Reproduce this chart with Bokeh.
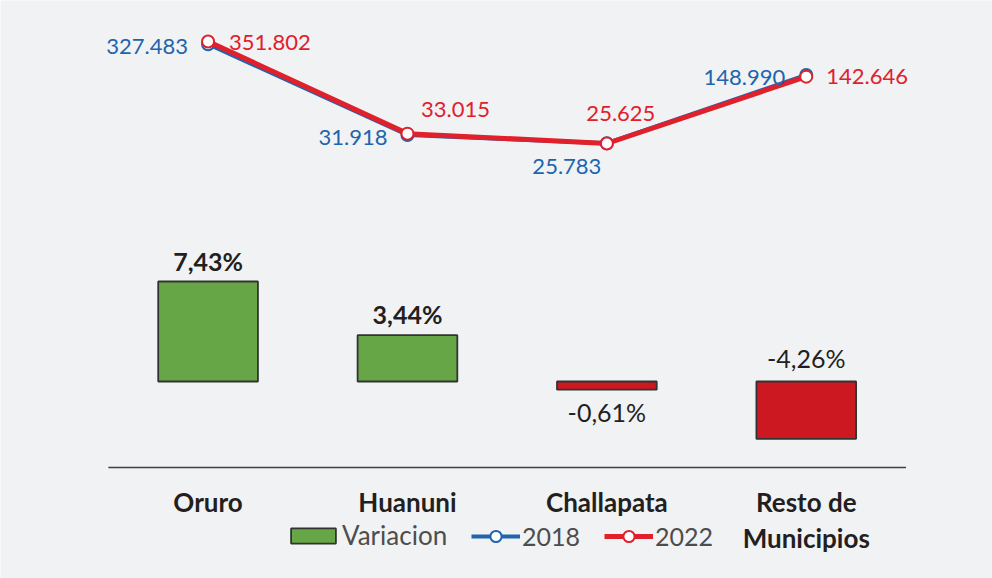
from bokeh.plotting import figure
from bokeh.models import Range1d, LogScale, ColumnDataSource, Legend, LegendItem
from bokeh.core.properties import value
from bokeh.embed import file_html
from bokeh.resources import INLINE

# ---- data ----
categories = ["Oruro", "Huanuni", "Challapata", "Resto de\nMunicipios"]
variacion = [7.43, 3.44, -0.61, -4.26]
pob_2018 = [327483, 31918, 25783, 148990]
pob_2022 = [351802, 33015, 25625, 142646]

def fmt_pob(v):
    return f"{v:,}".replace(",", ".")

def fmt_pct(v):
    return f"{v:.2f}%".replace(".", ",")

labels_2018 = [fmt_pob(v) for v in pob_2018]
labels_2022 = [fmt_pob(v) for v in pob_2022]
labels_var = [fmt_pct(v) for v in variacion]

# ---- style ----
FONT = "Lato"
BG = "#f1f2f4"
BLUE = "#2064ad"
RED = "#e0202b"
GREEN = "#67a646"
BAR_RED = "#cc1820"
EDGE = "#333333"
TXT = "#231f20"

xs = list(range(len(categories)))
AXIS_Y = -6.39

p = figure(width=992, height=578,
           x_range=Range1d(-1.041, 3.934), y_range=Range1d(-14.64, 28.31),
           x_axis_location=None, y_axis_location=None,
           output_backend="svg", toolbar_location=None, min_border=0)
p.grid.visible = False
p.outline_line_color = None
p.background_fill_color = BG
p.border_fill_color = BG
p.extra_y_ranges = {"pob": Range1d(0.362, 1007000)}
p.extra_y_scales = {"pob": LogScale()}

# bars
bar_src = ColumnDataSource(dict(x=xs, top=variacion,
                                color=[GREEN if v >= 0 else BAR_RED for v in variacion]))
bars = p.vbar(x="x", top="top", bottom=0, width=0.5, fill_color="color",
              line_color=EDGE, line_width=1.8, source=bar_src)

# bar labels
lab_y = [variacion[0], variacion[1], variacion[2], 0]
lab_off = [-20, -21, 22, -23]
lab_bold = ["bold", "bold", "normal", "normal"]
lab_src = ColumnDataSource(dict(x=xs, y=lab_y, t=labels_var, off=lab_off, st=lab_bold))
p.text(x="x", y="y", text="t", y_offset="off", text_font_style="st", source=lab_src,
       text_font=value(FONT), text_font_size="25px", text_color=TXT,
       text_align="center", text_baseline="middle")

# axis line
p.segment(x0=[xs[0] - 0.5], y0=[AXIS_Y], x1=[xs[-1] + 0.5], y1=[AXIS_Y],
          line_color="#404040", line_width=1.5)

# category labels
p.text(x=xs, y=[AXIS_Y] * len(xs), text=categories, y_offset=19,
       text_font=value(FONT), text_font_size="26px", text_font_style="bold",
       text_color=TXT, text_align="center", text_baseline="top", text_line_height=1.12)

# lines
l18 = p.line(xs, pob_2018, y_range_name="pob", line_color=BLUE, line_width=4)
s18 = p.scatter(xs, pob_2018, y_range_name="pob", size=12, fill_color="white",
                line_color=BLUE, line_width=2)
l22 = p.line(xs, pob_2022, y_range_name="pob", line_color=RED, line_width=5)
s22 = p.scatter(xs, pob_2022, y_range_name="pob", size=12, fill_color="white",
                line_color=RED, line_width=2)

# line labels
off18_x = [-20, -20, -40, -21]
off18_y = [2, 3, 23, 3]
align18 = ["right", "right", "center", "right"]
off22_x = [21, 48, 14, 20]
off22_y = [1, -24, -30, 0]
align22 = ["left", "center", "center", "left"]
src18 = ColumnDataSource(dict(x=xs, y=pob_2018, t=labels_2018, ox=off18_x, oy=off18_y, a=align18))
src22 = ColumnDataSource(dict(x=xs, y=pob_2022, t=labels_2022, ox=off22_x, oy=off22_y, a=align22))
p.text(x="x", y="y", text="t", x_offset="ox", y_offset="oy", text_align="a", source=src18,
       y_range_name="pob", text_font=value(FONT), text_font_size="22px",
       text_color=BLUE, text_baseline="middle")
p.text(x="x", y="y", text="t", x_offset="ox", y_offset="oy", text_align="a", source=src22,
       y_range_name="pob", text_font=value(FONT), text_font_size="22px",
       text_color=RED, text_baseline="middle")

common = dict(orientation="horizontal", padding=0, margin=0, border_line_color=None,
              background_fill_alpha=0, label_text_font=FONT,
              label_text_color="#4d4d4d")
legend_bar = Legend(items=[LegendItem(label="Variacion", renderers=[bars])],
                    location=(285, 27), glyph_width=56, glyph_height=19,
                    label_standoff=1, label_text_font_size="26px", **common)
legend_line = Legend(items=[LegendItem(label="2018", renderers=[l18, s18]),
                            LegendItem(label="2022", renderers=[l22, s22])],
                     location=(471, 27), glyph_width=49, glyph_height=28,
                     label_standoff=2, spacing=24, label_text_font_size="25px", **common)
p.add_layout(legend_bar)
p.add_layout(legend_line)

open("out.html", "w").write(file_html(p, INLINE))
